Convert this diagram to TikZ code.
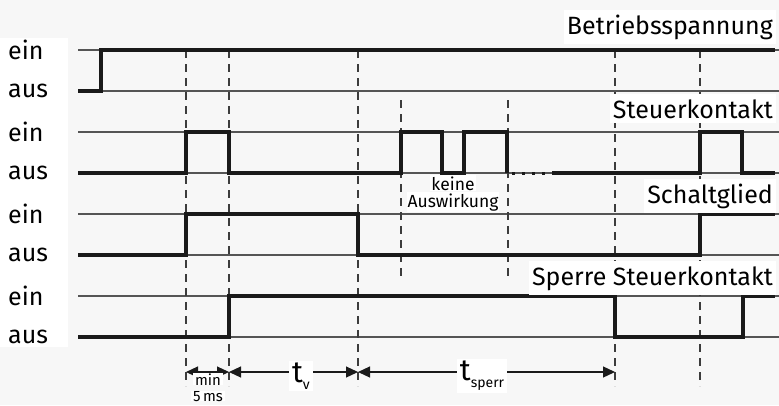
\documentclass[tikz,border=0pt]{standalone}
\usepackage{fontspec}
\setmainfont{Fira Sans}
\usetikzlibrary{arrows.meta}
\definecolor{paper}{HTML}{F7F7F7}
\definecolor{ink}{HTML}{1A1A1A}
\definecolor{rulegray}{HTML}{555555}
\begin{document}
\begin{tikzpicture}[x=1pt,y=-1pt,
  level/.style={draw=rulegray, line width=1.2pt},
  signal/.style={draw=ink, line width=3.4pt, line join=miter},
  dotsig/.style={draw=ink, line width=3pt, dash pattern=on 3pt off 7pt},
  marker/.style={draw=ink!85, line width=1.5pt, dash pattern=on 8pt off 6pt},
  dim/.style={draw=ink, line width=1.2pt, {Triangle[length=12pt,width=11pt]}-{Triangle[length=12pt,width=11pt]}},
  statelbl/.style={anchor=west, inner sep=0pt, font=\fontsize{25}{28}\selectfont},
  title/.style={anchor=base east, fill=white, inner xsep=3pt, inner ysep=5pt, font=\fontsize{25}{28}\selectfont},
  note/.style={fill=white, inner sep=1pt, anchor=base, font=\fontsize{17.5}{17}\selectfont},
  small/.style={fill=white, inner xsep=2pt, inner ysep=0pt, anchor=base, font=\fontsize{15}{15}\selectfont},
  tlbl/.style={fill=white, inner xsep=3pt, inner ysep=2pt}]

% canvas
\fill[paper] (0,0) rectangle (779,405);
\useasboundingbox (0,0) rectangle (779,405);
\fill[white] (0,38) rectangle (68,347);

% ein / aus reference levels
\foreach \y in {50,91,132,173,214,255,296,337}
  \draw[level] (78,\y) -- (779,\y);

% time markers
\foreach \x in {186,229,358,615,700}
  \draw[marker] (\x,50) -- (\x,386);
\foreach \x in {401,508}
  \draw[marker] (\x,100) -- (\x,276);

% Betriebsspannung
\draw[signal] (78,91) -- (101,91) -- (101,50) -- (775,50);
% Steuerkontakt
\draw[signal] (78,173) -- (186,173) -- (186,132) -- (229,132) -- (229,173)
  -- (401,173) -- (401,132) -- (442,132) -- (442,173) -- (464,173)
  -- (464,132) -- (507,132) -- (507,173);
\draw[dotsig] (512,173) -- (552,173);
\draw[signal] (552,173) -- (700,173) -- (700,132) -- (742,132) -- (742,173) -- (775,173);
% Schaltglied
\draw[signal] (78,255) -- (186,255) -- (186,214) -- (358,214) -- (358,255)
  -- (700,255) -- (700,214) -- (775,214);
% Sperre Steuerkontakt
\draw[signal] (78,337) -- (229,337) -- (229,296) -- (615,296) -- (615,337)
  -- (743,337) -- (743,296) -- (775,296);

% state labels
\foreach \y/\s in {50/ein,91/aus,132/ein,173/aus,214/ein,255/aus,296/ein,337/aus}
  \node[statelbl] at (8,\y) {\s};

% signal names
\node[title] (ub) at (776,34) {Betriebsspannung};
\node[title] (sk) at (776,118) {Steuerkontakt};
\node[title] (sg) at (776,203) {Schaltglied};
\node[title] (sp) at (776,285) {Sperre Steuerkontakt};
\node[note] (kw1) at (453,190) {keine};
\node[note] (kw2) at (453,207) {Auswirkung};

% time spans
\coordinate (a0) at (186,372);
\coordinate (a1) at (229,372);
\coordinate (a2) at (358,372);
\coordinate (a3) at (615,372);
\draw[dim] (a0) -- (a1);
\draw[dim] (a1) -- (a2);
\draw[dim] (a2) -- (a3);
\node[tlbl] (tv) at (301,376) {\fontsize{30}{30}\selectfont t\raisebox{-7pt}{\fontsize{14}{14}\selectfont v}};
\node[tlbl] (ts) at (482,376) {\fontsize{30}{30}\selectfont t\raisebox{-7pt}{\fontsize{14}{14}\selectfont sperr}};
\node[small] (mn1) at (208,385) {min};
\node[small] (mn2) at (208,401) {5\,ms};
\end{tikzpicture}
\end{document}
